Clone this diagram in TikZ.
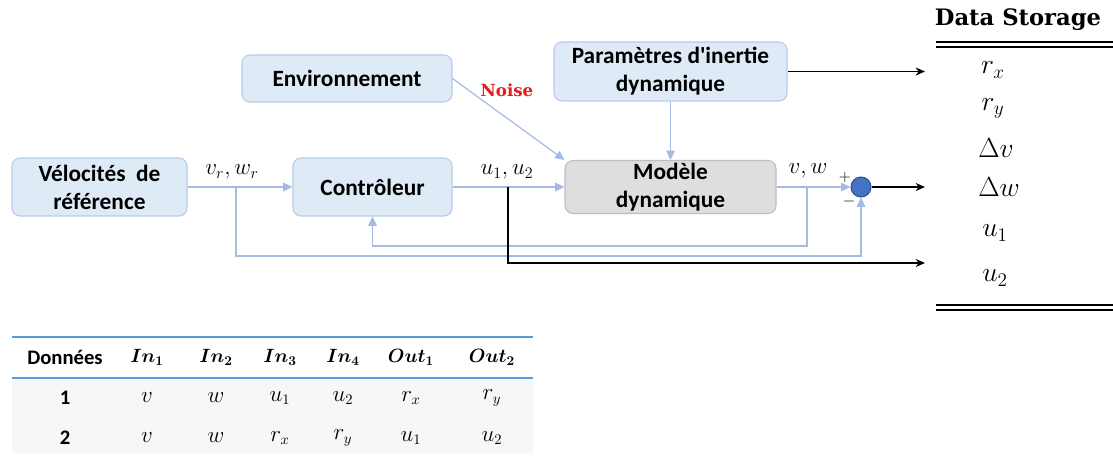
\documentclass[tikz,border=0pt]{standalone}
\usepackage{amsmath,amssymb,bm}
\usepackage[no-math]{fontspec}
\setmainfont{Carlito}
\newfontfamily\titlefont{DejaVu Serif}
\usepackage{xcolor}
\usetikzlibrary{arrows.meta, positioning, calc}
\definecolor{boxfill}{RGB}{222,235,247}
\definecolor{boxline}{RGB}{183,203,232}
\definecolor{flowline}{RGB}{164,188,228}
\definecolor{modelfill}{RGB}{222,222,222}
\definecolor{modelline}{RGB}{190,190,190}
\definecolor{sumfill}{RGB}{68,114,196}
\definecolor{sumline}{RGB}{47,82,143}
\definecolor{rulecol}{RGB}{91,155,213}
\definecolor{rowfill}{RGB}{246,247,249}
\definecolor{noisered}{RGB}{230,25,30}

\begin{document}
\begin{tikzpicture}[
    x=0.75pt, y=-0.75pt,
    block/.style={rectangle, rounded corners=6pt, draw=boxline, fill=boxfill, thick, inner sep=0pt, align=center, font=\fontsize{17.5}{21}\selectfont\bfseries},
    model/.style={block, draw=modelline, fill=modelfill},
    sum/.style={circle, draw=sumline, fill=sumfill, thick, inner sep=0pt, minimum size=15pt},
    flow/.style={-{Triangle[length=7pt,width=6.5pt]}, draw=flowline, line width=0.9pt},
    store/.style={-{Stealth[length=7pt,width=6pt]}, black, line width=1.2pt},
    lab/.style={inner sep=0pt, font=\fontsize{18.5}{20}\selectfont},
    item/.style={inner sep=0pt, font=\fontsize{20}{22}\selectfont},
    cell/.style={inner sep=0pt, font=\fontsize{16}{18}\selectfont},
    head/.style={inner sep=0pt, font=\fontsize{14.5}{17}\selectfont}
]
    \useasboundingbox (0,0) rectangle (1113,455);

    % blocks of the loop
    \node[block, minimum width=131.25pt, minimum height=43.5pt] (vel) at (99.5,187) {V\'elocit\'es\ \ de\\r\'ef\'erence};
    \node[block, minimum width=119.25pt, minimum height=43.5pt] (ctrl) at (372.5,187) {Contr\^oleur};
    \node[block, minimum width=157.5pt, minimum height=35.25pt] (env) at (347,78.5) {Environnement};
    \node[block, minimum width=174.75pt, minimum height=44.25pt] (param) at (670.5,71.5) {Param\`etres d\textquotesingle inertie\\dynamique};
    \node[model, minimum width=158.25pt, minimum height=39.75pt] (mod) at (670.5,187) {Mod\`ele\\dynamique};
    \node[sum] (sum) at (861,187) {};

    % branch points and free ends
    \coordinate (ref) at (236,187);
    \coordinate (ub) at (508,187);
    \coordinate (fb) at (807,187);
    \coordinate (ds-p) at (925,71.5);
    \coordinate (ds-s) at (925,187);
    \coordinate (ds-u) at (925,263);

    % light connectors
    \draw[flow] (vel) -- (ctrl);
    \draw[flow] (ctrl) -- (mod);
    \draw[flow] (mod) -- (sum);
    \draw[flow] (env.east) -- (mod.north west);
    \draw[flow] (param) -- (mod);
    \draw[flow] (fb) -- ++(0,59) -| (ctrl.south);
    \draw[flow] (ref) -- ++(0,69) -| (sum.south);

    % outputs to the storage
    \draw[store] (param.east) -- (ds-p);
    \draw[store] (sum) -- (ds-s);
    \draw[store] (ub) |- (ds-u);

    % labels
    \node[lab] at (232,172) {$v_r, w_r$};
    \node[lab] at (507,172) {$u_1, u_2$};
    \node[lab] at (808,171) {$v, w$};
    \node[lab, font=\fontsize{13}{14}\selectfont] at (845,177) {$+$};
    \node[lab, font=\fontsize{13}{14}\selectfont] at (849,201) {$-$};
    \node[inner sep=0pt, text=noisered, font=\titlefont\bfseries\fontsize{12.5}{15}\selectfont] (noise) at (507,90) {Noise};

    % data storage
    \node[inner sep=0pt, font=\titlefont\bfseries\fontsize{17}{19}\selectfont] (ds) at (1018,20) {Data Storage};
    \draw[line width=1.5pt] (936,42) -- (1113,42) (936,47) -- (1113,47);
    \draw[line width=1.5pt] (936,305) -- (1113,305) (936,310) -- (1113,310);
    \node[item] (st1) at (993,70) {$r_x$};
    \node[item] (st2) at (993,108) {$r_y$};
    \node[item] (st3) at (996,148) {$\Delta v$};
    \node[item] (st4) at (999,187) {$\Delta w$};
    \node[item] (st5) at (995,233) {$u_1$};
    \node[item] (st6) at (995,278) {$u_2$};

    % table of the data sets
    \fill[rowfill] (12,379) rectangle (533,453);
    \draw[rulecol, line width=1.5pt] (12,337) -- (533,337) (12,378) -- (533,378);
    \node[head, font=\fontsize{15.5}{17}\selectfont\bfseries] (hd) at (65,357) {Donn\'ees};
    \node[cell, font=\fontsize{15.5}{17}\selectfont\bfseries] (r1) at (65,398) {1};
    \node[cell, font=\fontsize{15.5}{17}\selectfont\bfseries] (r2) at (65,438) {2};
    \foreach \x/\h/\a/\b in {147/In_1/v/v, 216/In_2/w/w, 280/In_3/u_1/r_x, 343/In_4/u_2/r_y, 411/Out_1/r_x/u_1, 492/Out_2/r_y/u_2} {
        \node[head] at (\x,357) {$\bm{\h}$};
        \node[cell] at (\x,398) {$\a$};
        \node[cell] at (\x,438) {$\b$};
    }
\end{tikzpicture}
\end{document}
